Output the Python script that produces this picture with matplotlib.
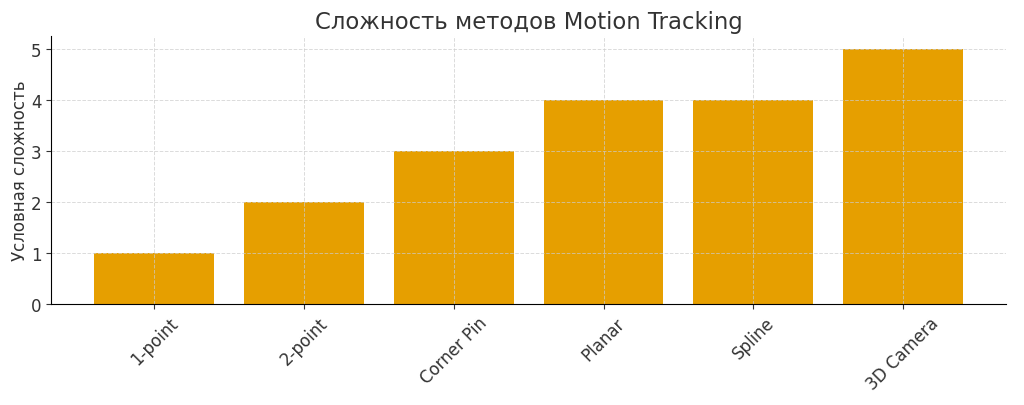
import matplotlib
matplotlib.use("Agg")
import matplotlib.pyplot as plt

categories = ["1-point", "2-point", "Corner Pin", "Planar", "Spline", "3D Camera"]
values = [1, 2, 3, 4, 4, 5]
title = "Сложность методов Motion Tracking"
ylabel = "Условная сложность"

plt.rcParams['font.family'] = ['DejaVu Sans']
fig = plt.figure(figsize=(10.24, 4.06), dpi=100)
ax = fig.add_axes([0.0498, 0.249, 0.933, 0.66])
ax.bar(categories, values, color="#E69F00", width=0.8)
ax.set_title(title, fontsize=16.4, color="#333333")
ax.set_ylabel(ylabel, fontsize=12, color="#333333", labelpad=1)
ax.tick_params(axis='x', labelrotation=45, labelsize=12, colors="#333333")
ax.tick_params(axis='y', labelsize=12, colors="#333333")
ax.grid(True, linestyle='--', color='#cccccc', linewidth=0.7, alpha=0.7)
ax.spines['top'].set_visible(False)
ax.spines['right'].set_visible(False)
fig.savefig("out.png", dpi=100)
